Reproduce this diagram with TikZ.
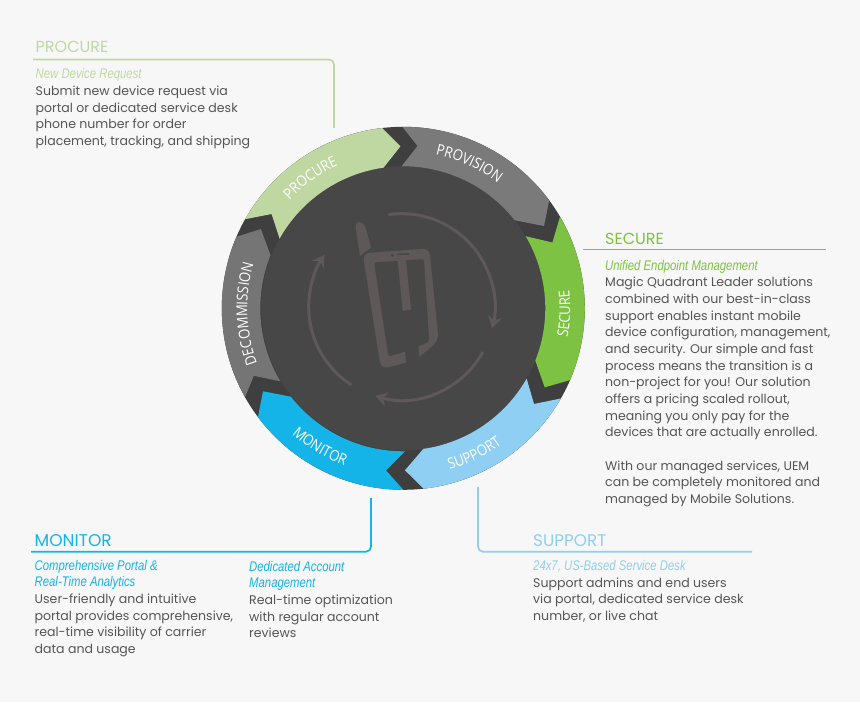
\documentclass[tikz,border=0pt]{standalone}
\usepackage{fontspec}
\setmainfont{Poppins}
\newfontfamily\subfont[FakeStretch=0.81]{Liberation Sans}
\newfontfamily\ringfont[FakeStretch=0.88]{Open Sans}
\usetikzlibrary{positioning,arrows.meta,decorations.text}
\definecolor{bgcol}{HTML}{F7F7F7}
\definecolor{diskcol}{HTML}{3F3F3F}
\definecolor{innercol}{HTML}{474747}
\definecolor{iconcol}{HTML}{5E5858}
\definecolor{bodycol}{HTML}{555555}
\definecolor{procurecol}{HTML}{BFD8A2}
\definecolor{provisioncol}{HTML}{7A7A7A}
\definecolor{securecol}{HTML}{7DC242}
\definecolor{supportcol}{HTML}{8ECFF3}
\definecolor{monitorcol}{HTML}{14B4E9}
\definecolor{decomcol}{HTML}{757575}
\newcommand{\subline}[2]{{\subfont\itshape\fontsize{14}{16.67}\selectfont\color{#1}#2}}
\begin{document}
\begin{tikzpicture}[x=1pt, y=1pt,
    title/.style = {inner sep=0pt, anchor=west, font=\fontsize{#1}{18}\selectfont},
    body/.style = {inner sep=0pt, anchor=north west, align=left, text=bodycol, font=\fontsize{12.55}{16.67}\selectfont},
    leader/.style = {line width=1.7pt, rounded corners=5pt},
    ringtext/.style = {decorate, decoration={text along path, text color=white, text align=center, text={|\ringfont\fontsize{15}{17}\selectfont|#1}}},
    iconline/.style = {draw=iconcol, line width=3pt, line cap=round},
    iconarrow/.style = {iconline, -{Stealth[length=12pt, width=14pt, inset=4pt]}}]
  \useasboundingbox (0,0) rectangle (860,702);
  \fill[bgcol] (0,0) rectangle (860,702);

  \begin{scope}[shift={(403.3,393.7)}]
    \fill[diskcol] (0,0) circle (181.5);
    \fill[innercol] (0,0) circle (142);
    \fill[procurecol] (150.6:181.5) arc[start angle=150.6, end angle=96.7, radius=181.5] -- (91:162) -- (98:142)
      arc[start angle=98, end angle=150.6, radius=142] -- (144.4:162) -- cycle;
    \fill[provisioncol] (90.3:181.5) arc[start angle=90.3, end angle=36.5, radius=181.5] -- (30.3:163) -- (38.3:142)
      arc[start angle=38.3, end angle=90.7, radius=142] -- (85:163) -- cycle;
    \fill[securecol] (30.3:181.5) arc[start angle=30.3, end angle=-23.3, radius=181.5] -- (-29.2:162) -- (-21.6:142)
      arc[start angle=-21.6, end angle=30.5, radius=142] -- (23.8:163) -- cycle;
    \fill[supportcol] (-29.8:181.5) arc[start angle=-29.8, end angle=-83.6, radius=181.5] -- (-89.4:162) -- (-81.9:142)
      arc[start angle=-81.9, end angle=-29.7, radius=142] -- (-36.2:162) -- cycle;
    \fill[monitorcol] (-90:181.5) arc[start angle=-90, end angle=-143.2, radius=181.5] -- (-149.4:163) -- (-141.8:143)
      arc[start angle=-141.8, end angle=-89.3, radius=143] -- (-96.1:163) -- cycle;
    \fill[decomcol] (-150.7:181.5) arc[start angle=209.3, end angle=156.8, radius=181.5] -- (150.9:163) -- (158.2:143)
      arc[start angle=158.2, end angle=210.7, radius=143] -- (-155.7:164) -- cycle;

    \path[ringtext=PROCURE] (150:157) arc[start angle=150, end angle=101, radius=157];
    \path[ringtext=PROVISION] (90:157) arc[start angle=90, end angle=41, radius=157];
    \path[ringtext=SECURE] (-27:167) arc[start angle=-27, end angle=23, radius=167];
    \path[ringtext=SUPPORT] (-89:168) arc[start angle=-89, end angle=-39, radius=168];
    \path[ringtext=MONITOR] (-146:168) arc[start angle=-146, end angle=-96, radius=168];
    \path[ringtext=DECOMMISSION] (-150:156) arc[start angle=210, end angle=154, radius=156];
  \end{scope}

  \begin{scope}[shift={(401.7,395.3)}]
    \draw[iconarrow] (97.7:93) arc[start angle=97.7, end angle=-13.4, radius=93];
    \draw[iconarrow] (-29.6:93) arc[start angle=-29.6, end angle=-106.5, radius=93];
    \draw[iconarrow] (-123.3:93) arc[start angle=236.7, end angle=146, radius=93];
  \end{scope}

  \begin{scope}[shift={(300,497)}, xscale=1/3, yscale=-1/3]
    \fill[iconcol] (167,68) .. controls (165,45) and (190,45) .. (197,70) -- (213,128) -- (180,152) -- cycle;
    \fill[iconcol] [rounded corners=7pt] (188,145) -- (388,130) -- (416,408) [sharp corners] -- (358,455) -- (355,425)
      [rounded corners=2pt] -- (388,410) -- (372,162) -- (222,172) -- (265,455) [sharp corners] -- (315,440) -- (318,473)
      [rounded corners=7pt] -- (243,492) -- cycle;
    \fill[iconcol] (293,165) -- (308,318) -- (333,314) -- (318,163) -- cycle;
    \fill[innercol] (277,151) circle (5);
    \draw[innercol, line width=1.6pt, line cap=round] (294,148) -- (326,147);
  \end{scope}

  \node[title=16, text=procurecol] (ptitle) at (35.5,655) {PROCURE};
  \node[body, below=15.5pt of ptitle.south west, anchor=north west] (pbody) {\subline{procurecol}{New Device Request}\\
    Submit new device request via\\portal or dedicated service desk\\phone number for order\\placement, tracking, and shipping};
  \coordinate (pa) at (33,642.5);
  \coordinate (pb) at (334,574);
  \draw[leader, draw=procurecol] (pa) -| (pb);

  \node[title=16, text=securecol] (stitle) at (605,463) {SECURE};
  \node[body, below=15pt of stitle.south west, anchor=north west] (sbody) {\subline{securecol}{Unified Endpoint Management}\\
    Magic Quadrant Leader solutions\\combined with our best-in-class\\support enables instant mobile\\device configuration, management,\\and security. Our simple and fast\\process means the transition is a\\non-project for you! Our solution\\offers a pricing scaled rollout,\\meaning you only pay for the\\devices that are actually enrolled.\\[16.67pt]
    With our managed services, UEM\\can be completely monitored and\\managed by Mobile Solutions.};
  \coordinate (sa) at (583,452.5);
  \coordinate (sb) at (826,452.5);
  \draw[leader, draw=securecol] (sa) -- (sb);

  \node[title=17, text=monitorcol] (mtitle) at (34.5,161.5) {MONITOR};
  \node[body, below=13pt of mtitle.south west, anchor=north west] (mbody) {\subline{monitorcol}{Comprehensive Portal \&}\\\subline{monitorcol}{Real-Time Analytics}\\
    User-friendly and intuitive\\portal provides comprehensive,\\real-time visibility of carrier\\data and usage};
  \node[body, below right=1pt and 214.5pt of mbody.north west, anchor=north west] (nbody) {\subline{monitorcol}{Dedicated Account}\\\subline{monitorcol}{Management}\\
    Real-time optimization\\with regular account\\reviews};
  \coordinate (ma) at (31,150.3);
  \coordinate (mb) at (371,204);
  \draw[leader, draw=monitorcol] (ma) -| (mb);

  \node[title=16.8, text=supportcol] (ttitle) at (533,161) {SUPPORT};
  \node[body, below=13pt of ttitle.south west, anchor=north west] (tbody) {\subline{supportcol}{24x7, US-Based Service Desk}\\
    Support admins and end users\\via portal, dedicated service desk\\number, or live chat};
  \coordinate (ta) at (478,215);
  \coordinate (tb) at (752,150.3);
  \draw[leader, draw=supportcol] (ta) |- (tb);
\end{tikzpicture}
\end{document}
